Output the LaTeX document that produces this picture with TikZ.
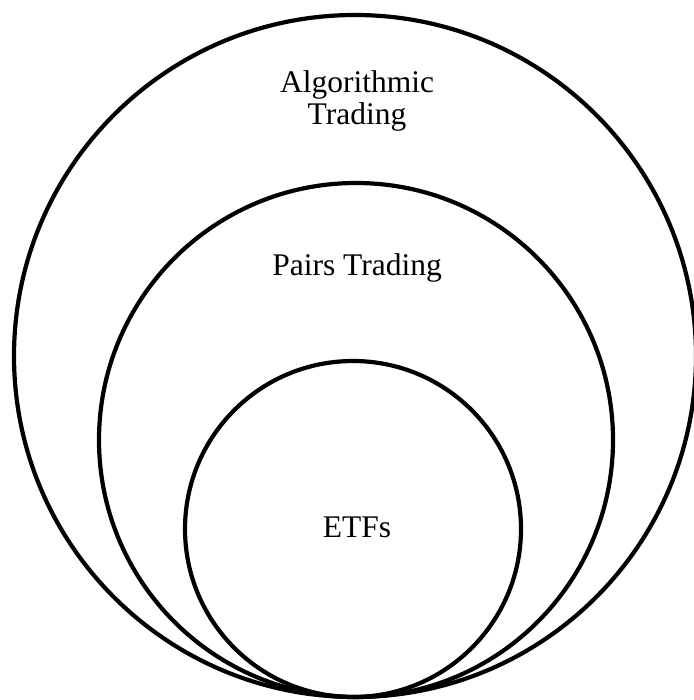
\documentclass[tikz,border=0pt]{standalone}
\usepackage{fontspec}
\setmainfont{Liberation Serif}
\begin{document}
\begin{tikzpicture}[x=1pt,y=-1pt,
  ring/.style={draw=black,line width=4.2pt},
  lbl/.style={font=\fontsize{31.5}{32}\selectfont,inner sep=0pt,align=center}]
\useasboundingbox (0,0) rectangle (693,700);
\draw[ring] (355,356) circle[radius=341];
\draw[ring] (356,440) circle[radius=257];
\draw[ring] (353,529) circle[radius=168];
\node[lbl,anchor=center] (alg) at (357,101) {Algorithmic\\Trading};
\node[lbl,anchor=base] (pairs) at (357,275) {Pairs Trading};
\node[lbl,anchor=base] (etf) at (357,537) {ETFs};
\end{tikzpicture}
\end{document}
